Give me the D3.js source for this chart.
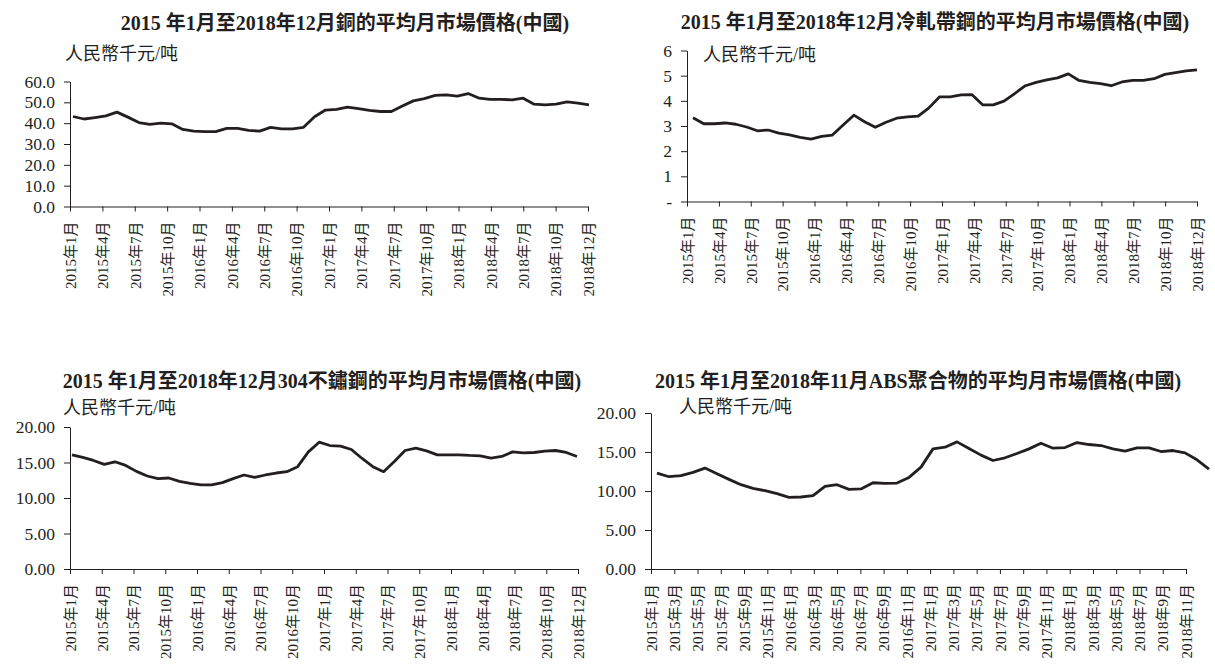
<!DOCTYPE html>
<html>
<head>
<meta charset="utf-8">
<script src="https://cdn.jsdelivr.net/npm/d3@7"></script>
<style>
body { margin: 0; background: #fff; }
text { font-family: "Liberation Serif", "Noto Sans CJK TC", serif; fill: #231f20; }
</style>
</head>
<body>
<script>
const width = 1215;
const height = 665;

// x-axis labels
const quarterTicks = ['2015年1月', '2015年4月', '2015年7月', '2015年10月',
    '2016年1月', '2016年4月', '2016年7月', '2016年10月',
    '2017年1月', '2017年4月', '2017年7月', '2017年10月',
    '2018年1月', '2018年4月', '2018年7月', '2018年10月', '2018年12月']
const bimonthTicks = ['2015年1月', '2015年3月', '2015年5月', '2015年7月', '2015年9月', '2015年11月',
    '2016年1月', '2016年3月', '2016年5月', '2016年7月', '2016年9月', '2016年11月',
    '2017年1月', '2017年3月', '2017年5月', '2017年7月', '2017年9月', '2017年11月',
    '2018年1月', '2018年3月', '2018年5月', '2018年7月', '2018年9月', '2018年11月']

// monthly prices, RMB thousand / tonne (2015-01 ...)
const copper = [43.2, 42.0, 42.7, 43.5, 45.3, 42.9, 40.3, 39.4, 40.0, 39.7, 37.0, 36.2,
    35.9, 35.9, 37.5, 37.5, 36.5, 36.2, 38.0, 37.3, 37.3, 38.0, 43.1, 46.3,
    46.6, 47.7, 47.0, 46.1, 45.6, 45.6, 48.2, 50.7, 51.8, 53.3, 53.6, 53.0,
    54.2, 52.0, 51.4, 51.4, 51.2, 52.0, 49.1, 48.8, 49.1, 50.2, 49.6, 48.8]
const coldRolled = [3.33, 3.09, 3.09, 3.12, 3.07, 2.96, 2.81, 2.84, 2.72, 2.65, 2.55, 2.48,
    2.59, 2.64, 3.04, 3.43, 3.17, 2.95, 3.15, 3.31, 3.36, 3.39, 3.72, 4.16,
    4.16, 4.24, 4.25, 3.84, 3.84, 3.99, 4.29, 4.60, 4.73, 4.83, 4.91, 5.07,
    4.81, 4.73, 4.68, 4.60, 4.75, 4.81, 4.81, 4.88, 5.05, 5.12, 5.19, 5.23]
const stainless304 = [16.08, 15.71, 15.29, 14.73, 15.10, 14.59, 13.75, 13.10, 12.73, 12.82, 12.35, 12.07,
    11.84, 11.84, 12.17, 12.73, 13.24, 12.91, 13.24, 13.52, 13.71, 14.41, 16.50, 17.86,
    17.39, 17.30, 16.83, 15.57, 14.41, 13.71, 15.15, 16.69, 17.02, 16.64, 16.08, 16.08,
    16.08, 15.99, 15.94, 15.62, 15.85, 16.50, 16.36, 16.41, 16.60, 16.69, 16.41, 15.85]
const absPolymer = [12.28, 11.83, 11.96, 12.38, 12.94, 12.21, 11.49, 10.81, 10.34, 10.04, 9.66, 9.19,
    9.23, 9.40, 10.60, 10.81, 10.21, 10.26, 11.06, 10.98, 11.02, 11.74, 13.06, 15.40,
    15.62, 16.30, 15.45, 14.60, 13.91, 14.26, 14.81, 15.40, 16.13, 15.49, 15.57, 16.21,
    15.96, 15.83, 15.40, 15.11, 15.53, 15.53, 15.06, 15.19, 14.89, 14.00, 12.81]

const unit = '人民幣千元/吨'

const panels = [
    { title: '2015 年1月至2018年12月銅的平均月市場價格(中國)', values: copper, ticks: quarterTicks,
      yMax: 60, yStep: 10, fmt: d3.format('.1f'),
      x0: 70, x1: 588, y0: 206.5, y1: 81.5, lx0: 73, lx1: 589, tx: 345, ty: 29.5, ux: 65, uy: 60 },
    { title: '2015 年1月至2018年12月冷軋帶鋼的平均月市場價格(中國)', values: coldRolled, ticks: quarterTicks,
      yMax: 6, yStep: 1, fmt: d => d === 0 ? '-' : d3.format('d')(d),
      x0: 687, x1: 1197, y0: 201.5, y1: 50.5, lx0: 693, lx1: 1197, tx: 935, ty: 28.5, ux: 703, uy: 61 },
    { title: '2015 年1月至2018年12月304不鏽鋼的平均月市場價格(中國)', values: stainless304, ticks: quarterTicks,
      yMax: 20, yStep: 5, fmt: d3.format('.2f'),
      x0: 70, x1: 578, y0: 569, y1: 427, lx0: 72, lx1: 577, tx: 322, ty: 388, ux: 63, uy: 414 },
    { title: '2015 年1月至2018年11月ABS聚合物的平均月市場價格(中國)', values: absPolymer, ticks: bimonthTicks,
      yMax: 20, yStep: 5, fmt: d3.format('.2f'),
      x0: 651, x1: 1186, y0: 569, y1: 413, lx0: 657, lx1: 1209, tx: 918, ty: 388, ux: 679, uy: 413 },
]

const svg = d3.select('body').append('svg')
    .attr('width', width)
    .attr('height', height)

function drawPanel(p) {
    const g = svg.append('g')

    const y = d3.scaleLinear().domain([0, p.yMax]).range([p.y0, p.y1])
    const xAxis = d3.scalePoint().domain(p.ticks).range([p.x0, p.x1])
    // the line sits on its own month scale
    const x = d3.scaleLinear().domain([0, p.values.length - 1]).range([p.lx0, p.lx1])

    g.append('text')
        .attr('x', p.tx)
        .attr('y', p.ty)
        .attr('text-anchor', 'middle')
        .attr('font-weight', 'bold')
        .attr('font-size', 20)
        .text(p.title)

    g.append('text')
        .attr('x', p.ux)
        .attr('y', p.uy)
        .attr('font-size', 18)
        .text(unit)

    const yAxis = g.append('g')
        .attr('transform', `translate(${p.x0},0)`)
        .call(d3.axisLeft(y)
            .tickValues(d3.range(0, p.yMax + 0.001, p.yStep))
            .tickFormat(p.fmt)
            .tickSize(6)
            .tickPadding(9)
            .tickSizeOuter(0))
    yAxis.selectAll('text').attr('font-size', 17.5)

    const xg = g.append('g')
        .attr('transform', `translate(0,${p.y0})`)
        .call(d3.axisBottom(xAxis).tickSize(5).tickSizeOuter(0))
    xg.selectAll('text')
        .attr('transform', 'rotate(-90)')
        .attr('text-anchor', 'end')
        .attr('x', -15)
        .attr('y', 0)
        .attr('dy', '0.35em')
        .attr('font-size', 15)

    g.selectAll('.domain, .tick line').attr('stroke', '#231f20')
    g.selectAll('.tick text').style('font-family', '"Liberation Serif", "Noto Sans CJK TC", serif')

    const line = d3.line()
        .x((d, i) => x(i))
        .y(d => y(d))

    g.append('path')
        .datum(p.values)
        .attr('d', line)
        .attr('fill', 'none')
        .attr('stroke', '#231f20')
        .attr('stroke-width', 2.8)
        .attr('stroke-linejoin', 'round')
}

panels.forEach(drawPanel)
</script>
</body>
</html>
